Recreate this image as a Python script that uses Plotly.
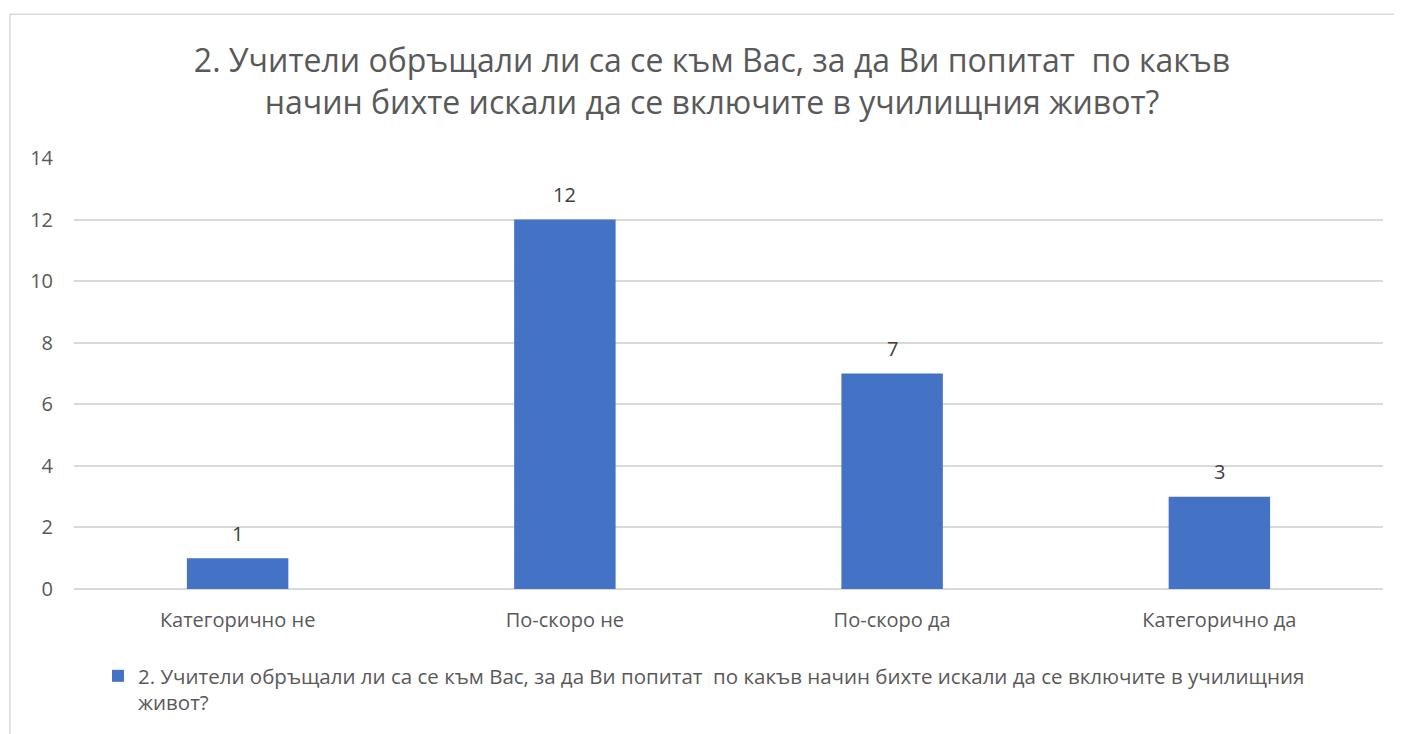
import plotly.graph_objects as go

categories = ["Категорично не", "По-скоро не", "По-скоро да", "Категорично да"]
values = [1, 12, 7, 3]
y_ticks = [0, 2, 4, 6, 8, 10, 12, 14]

title_text = ("2. Учители обръщали ли са се към Вас, за да Ви попитат  по какъв<br>"
              "начин бихте искали да се включите в училищния живот?")
series_name = ("2. Учители обръщали ли са се към Вас, за да Ви попитат  по какъв начин "
               "бихте искали да се включите в училищния<br>живот?")

FONT = "Open Sans"
TXT = "#595959"

# page has an 8px body margin, so the figure is drawn 8px smaller
W, H = 1394, 726
L, R, T, B = 66, 19, 150, 144

fig = go.Figure()
fig.add_trace(go.Bar(
    x=categories,
    y=values,
    name=series_name,
    marker=dict(color="#4472C4", line=dict(width=0)),
    showlegend=True,
))

# data labels above bars
for c, v in zip(categories, values):
    fig.add_annotation(x=c, y=v, text=str(v), showarrow=False,
                       yanchor="middle", yshift=25,
                       font=dict(family=FONT, size=20, color="#404040"))

pw = W - L - R
ph = H - T - B
# chart border (cropped at right / bottom like the reference)
fig.add_shape(type="rect", xref="paper", yref="paper",
              x0=(2 - L) / pw, x1=(W + 10 - L) / pw,
              y0=-(B + 10) / ph, y1=(H - 6 - B) / ph,
              line=dict(color="#d9d9d9", width=1.5), layer="below")

fig.update_layout(
    width=W, height=H,
    margin=dict(l=L, r=R, t=T, b=B),
    paper_bgcolor="white", plot_bgcolor="white",
    font=dict(family=FONT, color=TXT, size=20),
    title=dict(text=title_text, xref="container", yref="container",
               x=704 / W, xanchor="center", y=1 - 64 / H, yanchor="middle",
               font=dict(family=FONT, size=32, color=TXT)),
    bargap=0.69,
    legend=dict(orientation="h", x=(90 - L) / pw, xanchor="left",
                y=-(648 - (H - B)) / ph, yanchor="top", valign="top",
                font=dict(family=FONT, size=20.5, color=TXT),
                bgcolor="rgba(0,0,0,0)"),
)
fig.update_xaxes(showgrid=False, showline=False, ticks="", ticklabelstandoff=17,
                 tickfont=dict(family=FONT, size=20, color=TXT))
fig.update_yaxes(range=[0, 14], tickvals=y_ticks, showgrid=True, gridcolor="#d9d9d9",
                 gridwidth=1.5, zeroline=True, zerolinecolor="#d9d9d9", zerolinewidth=1.5,
                 showline=False, ticks="", ticklabelstandoff=20,
                 tickfont=dict(family=FONT, size=20, color=TXT))

fig.write_html("out.html")
